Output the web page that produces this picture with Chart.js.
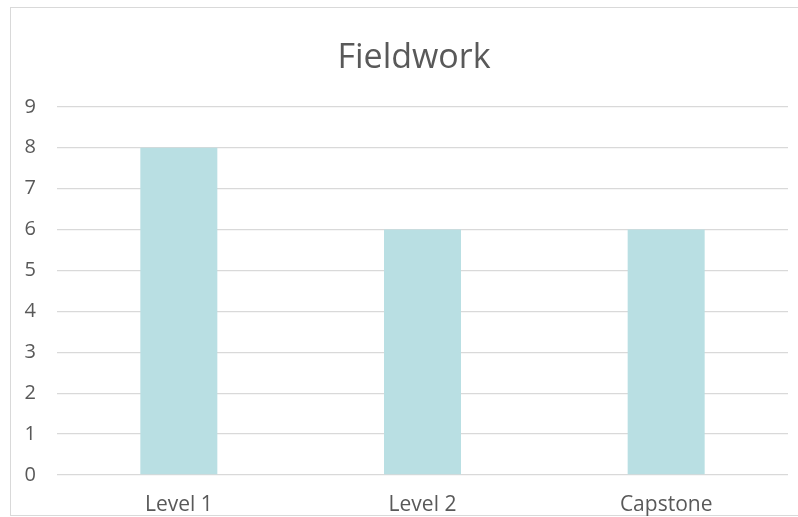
<!DOCTYPE html>
<html>
<head>
<meta charset="utf-8">
<script src="https://cdn.jsdelivr.net/npm/chart.js@4"></script>
<style>
    html, body { margin: 0; padding: 0; background: #fff; overflow: hidden; }
    #wrap { position: absolute; left: 0; top: 0; width: 828px; height: 517px; }
    #frame { position: absolute; left: 10px; top: 7px; width: 800px; height: 507px; border: 1px solid #d9d9d9; pointer-events: none; }
</style>
</head>
<body>
<div id="frame"></div>
<div id="wrap"><canvas id="fieldworkChart"></canvas></div>
<script>
const categories = ['Level 1', 'Level 2', 'Capstone'];
const fieldworkValues = [8, 6, 6];
const yTicks = [0, 1, 2, 3, 4, 5, 6, 7, 8, 9];

const ctx = document.getElementById('fieldworkChart').getContext('2d');
const chart = new Chart(ctx, {
    type: 'bar',
    data: {
        labels: categories,
        datasets: [{
            label: 'Fieldwork',
            data: fieldworkValues,
            backgroundColor: '#b9dfe3',
            borderWidth: 0,
            categoryPercentage: 1,
            barPercentage: 0.316,
        }],
    },
    options: {
        responsive: true,
        maintainAspectRatio: false,
        animation: false,
        layout: { padding: 0 },
        plugins: {
            legend: { display: false },
            tooltip: { enabled: false },
            title: {
                display: true,
                text: 'Fieldwork',
                color: '#595959',
                font: { family: 'Open Sans', size: 34, weight: 'normal', lineHeight: 1.2 },
                padding: { top: 38, bottom: 28 },
            },
        },
        scales: {
            x: {
                grid: { display: false, drawTicks: false },
                border: { display: false },
                ticks: {
                    color: '#595959',
                    font: { family: 'Open Sans', size: 21 },
                    padding: 17,
                },
                afterFit: (scale) => { scale.height = 42; },
            },
            y: {
                min: 0,
                max: 9,
                afterBuildTicks: (scale) => { scale.ticks = yTicks.map(v => ({ value: v })); },
                grid: { color: '#d9d9d9', lineWidth: 1.3, drawTicks: false },
                border: { display: false },
                ticks: {
                    color: '#595959',
                    font: { family: 'Open Sans', size: 20 },
                    padding: 21,
                },
                afterFit: (scale) => { scale.width = 57; },
            },
            // empty right-hand spacer so the title centres on the frame like the original
            spacer: {
                type: 'linear',
                position: 'right',
                grid: { display: false, drawTicks: false },
                border: { display: false },
                ticks: { display: false },
                afterFit: (scale) => { scale.width = 40; },
            },
        },
    },
});
</script>
</body>
</html>
